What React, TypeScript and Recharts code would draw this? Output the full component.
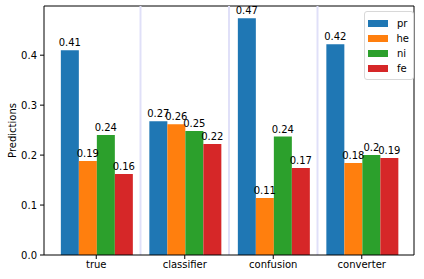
import { BarChart, Bar, XAxis, YAxis, CartesianGrid, LabelList, Legend } from "recharts";

const categories = ["true", "classifier", "confusion", "converter"];
const prValues = [0.41, 0.268, 0.474, 0.422];
const heValues = [0.188, 0.262, 0.114, 0.184];
const niValues = [0.24, 0.248, 0.237, 0.2];
const feValues = [0.162, 0.222, 0.174, 0.194];
const yTicks = [0, 0.1, 0.2, 0.3, 0.4];

const series = [
  { key: "pr", color: "#1f77b4", values: prValues },
  { key: "he", color: "#ff7f0e", values: heValues },
  { key: "ni", color: "#2ca02c", values: niValues },
  { key: "fe", color: "#d62728", values: feValues },
];

const data = categories.map((name, i) => {
  const row: Record<string, string | number> = { name };
  series.forEach((s) => (row[s.key] = s.values[i]));
  return row;
});

const font = "DejaVu Sans, sans-serif";
const axisPad = 8;

// lines between the category groups: band edges of the padded category axis
function separatorLines({ offset }: any) {
  const band = (offset.width - 2 * axisPad) / categories.length;
  return categories.slice(1).map((_, i) => offset.left + axisPad + band * (i + 1));
}

function LegendBox() {
  return (
    <div
      style={{
        border: "1px solid #d8d8d8",
        borderRadius: 3,
        background: "rgba(255,255,255,0.8)",
        padding: "4px 4px 3px 3px",
        boxSizing: "border-box",
        fontFamily: font,
        fontSize: 10,
        color: "#000",
      }}
    >
      {series.map((s) => (
        <div key={s.key} style={{ display: "flex", alignItems: "center", height: 15 }}>
          <span style={{ width: 20, height: 7, background: s.color, marginRight: 9 }} />
          <span>{s.key}</span>
        </div>
      ))}
    </div>
  );
}

export default function App() {
  return (
    <div style={{ position: "absolute", left: 0, top: 0, width: 424, height: 279, background: "#fff" }}>
      <BarChart
        width={424}
        height={279}
        data={data}
        margin={{ top: 6, right: 10, left: 0, bottom: 0 }}
        barCategoryGap="10%"
        barGap={0}
      >
        {/* top and right frame */}
        <CartesianGrid
          stroke="#000"
          strokeWidth={1}
          horizontalCoordinatesGenerator={({ offset }: any) => [offset.top]}
          verticalCoordinatesGenerator={({ offset }: any) => [offset.left + offset.width]}
        />
        <CartesianGrid
          stroke="#e0e0f8"
          strokeWidth={2}
          horizontal={false}
          verticalCoordinatesGenerator={separatorLines}
        />
        <XAxis
          dataKey="name"
          padding={{ left: axisPad, right: axisPad }}
          height={24}
          tickSize={4}
          tickMargin={2}
          interval={0}
          stroke="#000"
          tick={{ fill: "#000", fontSize: 10, fontFamily: font }}
          axisLine={{ stroke: "#000", strokeWidth: 1 }}
        />
        <YAxis
          domain={[0, 0.4985]}
          allowDataOverflow
          ticks={yTicks}
          width={44}
          tickSize={4}
          tickMargin={3}
          tickFormatter={(v: number) => v.toFixed(1)}
          stroke="#000"
          tick={{ fill: "#000", fontSize: 10, fontFamily: font }}
          axisLine={{ stroke: "#000", strokeWidth: 1 }}
          label={{
            value: "Predictions",
            angle: -90,
            position: "center",
            dx: -10,
            fill: "#000",
            fontSize: 10,
            fontFamily: font,
          }}
        />
        {series.map((s) => (
          <Bar key={s.key} dataKey={s.key} fill={s.color} isAnimationActive={false}>
            <LabelList
              dataKey={s.key}
              position="top"
              offset={4}
              formatter={(v: number) => String(Math.round(v * 100) / 100)}
              fill="#000"
              fontSize={10}
              fontFamily={font}
            />
          </Bar>
        ))}
        <Legend
          layout="horizontal"
          verticalAlign="middle"
          align="center"
          wrapperStyle={{ top: 11, left: 364, width: 50 }}
          content={() => <LegendBox />}
        />
      </BarChart>
    </div>
  );
}
